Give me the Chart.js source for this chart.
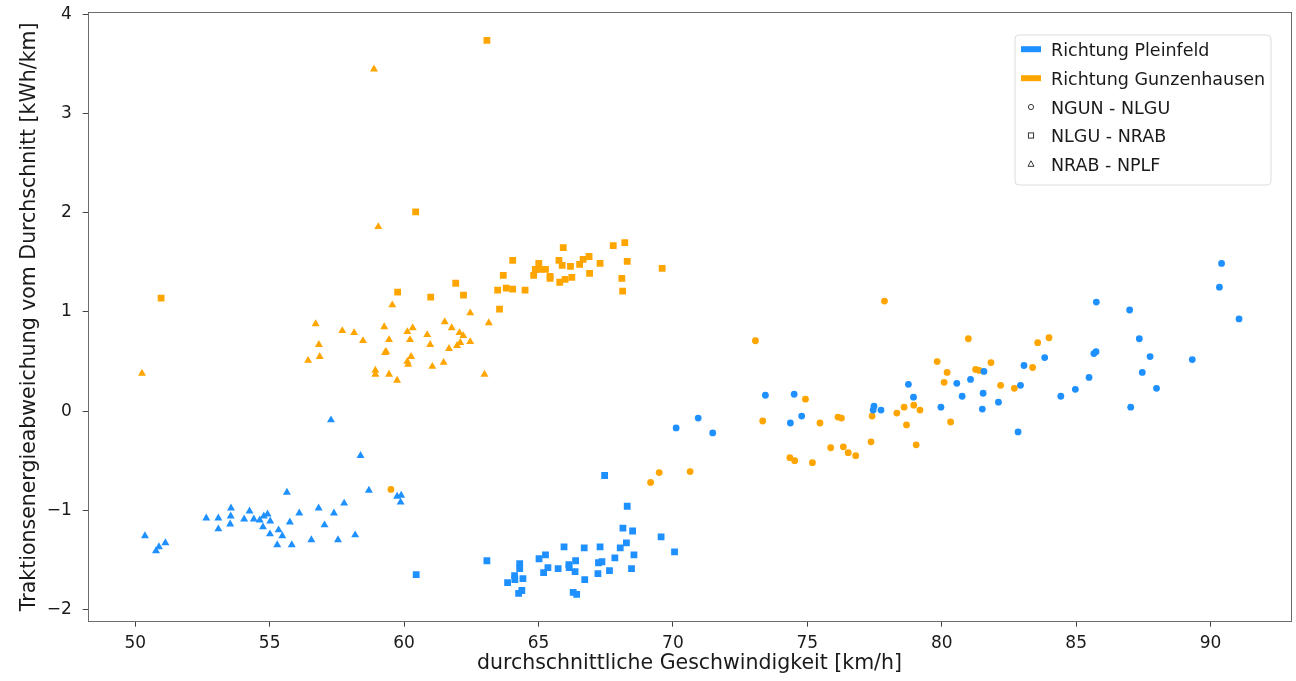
<!DOCTYPE html>
<html>
<head>
<meta charset="utf-8">
<script src="https://cdn.jsdelivr.net/npm/chart.js@4/dist/chart.umd.min.js"></script>
<style>
  html, body { margin: 0; padding: 0; background: #ffffff; }
  #wrap { width: 1296px; height: 681px; }
</style>
</head>
<body>
<div id="wrap"><canvas id="c" width="1296" height="681"></canvas></div>
<script>
// ---- Data (x: km/h, y: kWh/km deviation) ----
const xTicks = [50, 55, 60, 65, 70, 75, 80, 85, 90];
const yTicks = [-2, -1, 0, 1, 2, 3, 4];
const xTitle = 'durchschnittliche Geschwindigkeit [km/h]';
const yTitle = 'Traktionsenergieabweichung vom Durchschnitt [kWh/km]';
const directionLabels = ['Richtung Pleinfeld', 'Richtung Gunzenhausen'];
const sectionLabels = ['NGUN - NLGU', 'NLGU - NRAB', 'NRAB - NPLF'];

const pleinfeldNgunNlgu = [[70.12,-0.17],[70.94,-0.07],[71.48,-0.22],[73.44,0.16],[74.51,0.17],[74.37,-0.12],[74.79,-0.05],[77.48,0.05],[77.45,0.01],[77.74,0.01],[78.76,0.27],[78.95,0.14],[79.97,0.04],[80.56,0.28],[81.07,0.32],[80.76,0.15],[81.57,0.40],[81.54,0.18],[81.51,0.02],[82.11,0.09],[83.06,0.46],[82.93,0.26],[82.84,-0.21],[83.83,0.54],[84.43,0.15],[84.97,0.22],[85.48,0.34],[85.66,0.58],[85.74,0.60],[85.75,1.10],[86.99,1.02],[87.35,0.73],[87.75,0.55],[87.46,0.39],[87.99,0.23],[87.03,0.04],[89.32,0.52],[90.41,1.49],[90.33,1.25],[91.06,0.93]];
const gunzNgunNlgu = [[59.51,-0.79],[69.17,-0.72],[69.49,-0.62],[70.64,-0.61],[73.07,0.71],[73.34,-0.10],[74.35,-0.47],[74.53,-0.50],[74.93,0.12],[75.19,-0.52],[75.47,-0.12],[75.87,-0.37],[76.14,-0.06],[76.27,-0.07],[76.34,-0.36],[76.52,-0.42],[76.80,-0.45],[77.37,-0.31],[77.41,-0.05],[77.87,1.11],[78.33,-0.02],[78.60,0.04],[78.69,-0.14],[78.96,0.06],[79.05,-0.34],[79.19,0.01],[79.83,0.50],[80.09,0.29],[80.20,0.39],[80.33,-0.11],[80.99,0.73],[81.26,0.42],[81.39,0.41],[81.83,0.49],[82.19,0.26],[82.70,0.23],[83.38,0.44],[83.57,0.69],[83.99,0.74]];
const pleinfeldNlguNrab = [[60.45,-1.65],[63.08,-1.51],[63.85,-1.73],[64.11,-1.66],[64.12,-1.70],[64.30,-1.54],[64.30,-1.59],[64.42,-1.69],[64.26,-1.84],[64.38,-1.81],[65.02,-1.49],[65.26,-1.45],[65.35,-1.58],[65.19,-1.63],[65.73,-1.59],[65.95,-1.37],[66.13,-1.55],[66.14,-1.58],[66.38,-1.51],[66.36,-1.62],[66.29,-1.83],[66.42,-1.85],[66.70,-1.38],[66.72,-1.70],[67.29,-1.37],[67.23,-1.53],[67.36,-1.52],[67.21,-1.64],[67.64,-1.61],[67.84,-1.48],[68.04,-1.38],[68.27,-1.33],[68.14,-1.18],[68.50,-1.21],[68.30,-0.96],[68.55,-1.45],[68.46,-1.59],[67.46,-0.65],[69.56,-1.27],[70.06,-1.42]];
const gunzNlguNrab = [[50.96,1.14],[59.76,1.20],[60.43,2.01],[60.99,1.15],[61.92,1.29],[62.21,1.17],[63.08,3.74],[63.48,1.22],[63.55,1.03],[63.69,1.37],[63.80,1.24],[64.04,1.52],[64.04,1.23],[64.50,1.22],[64.82,1.37],[64.88,1.43],[65.01,1.49],[65.05,1.43],[65.26,1.43],[65.43,1.36],[65.43,1.34],[65.76,1.52],[65.79,1.30],[65.88,1.47],[65.92,1.65],[65.99,1.33],[66.19,1.46],[66.24,1.35],[66.53,1.48],[66.66,1.53],[66.88,1.56],[66.90,1.39],[67.29,1.49],[67.78,1.67],[68.10,1.34],[68.13,1.21],[68.21,1.70],[68.30,1.51],[69.60,1.44]];
const pleinfeldNrabNplf = [[50.36,-1.26],[50.77,-1.41],[50.88,-1.37],[51.12,-1.33],[52.64,-1.08],[53.09,-1.08],[53.09,-1.19],[53.56,-0.98],[53.55,-1.06],[53.53,-1.14],[54.05,-1.09],[54.25,-1.01],[54.41,-1.09],[54.63,-1.10],[54.78,-1.06],[54.92,-1.04],[55.02,-1.11],[54.75,-1.17],[55.01,-1.24],[55.33,-1.20],[55.47,-1.26],[55.28,-1.35],[55.82,-1.35],[55.64,-0.82],[55.75,-1.12],[56.10,-1.03],[56.55,-1.30],[56.82,-0.98],[57.04,-1.15],[57.39,-1.03],[57.54,-1.30],[57.28,-0.09],[57.77,-0.93],[58.18,-1.25],[58.38,-0.45],[58.69,-0.80],[59.74,-0.86],[59.89,-0.85],[59.87,-0.92]];
const gunzNrabNplf = [[50.25,0.38],[56.43,0.51],[56.71,0.88],[56.83,0.67],[56.86,0.55],[57.70,0.81],[58.14,0.79],[58.47,0.71],[58.88,3.45],[58.93,0.41],[58.93,0.37],[59.04,1.86],[59.26,0.85],[59.29,0.59],[59.33,0.60],[59.44,0.72],[59.44,0.37],[59.56,1.07],[59.74,0.31],[60.12,0.80],[60.12,0.50],[60.15,0.47],[60.22,0.72],[60.26,0.55],[60.32,0.84],[60.86,0.77],[60.97,0.67],[61.05,0.45],[61.47,0.49],[61.51,0.90],[61.67,0.63],[61.77,0.84],[61.97,0.66],[62.06,0.79],[62.09,0.69],[62.20,0.76],[62.46,0.70],[62.46,0.99],[62.99,0.37],[63.15,0.89]];

// ---- Styling ----
const BLUE = '#1E90FF';
const ORANGE = '#FFA500';
const FONT = "'DejaVu Sans', Verdana, sans-serif";

function toPts(arr) { return arr.map(p => ({ x: p[0], y: p[1] })); }
function ds(label, arr, color, style, radius) {
  return {
    label: label,
    data: toPts(arr),
    backgroundColor: color,
    borderColor: color,
    borderWidth: 0,
    pointStyle: style,
    pointRadius: radius,
    pointHoverRadius: radius
  };
}

const legendPlugin = {
  id: 'customLegend',
  afterDraw(chart) {
    const ctx = chart.ctx;
    ctx.save();
    // frame around axes
    const a = chart.chartArea;
    ctx.strokeStyle = '#6b6b6b';
    ctx.lineWidth = 1;
    ctx.strokeRect(Math.round(a.left) + 0.5, Math.round(a.top) + 0.5, Math.round(a.right - a.left) - 1, Math.round(a.bottom - a.top) - 1);

    // legend box
    const bx = 1015, by = 35, bw = 256, bh = 150, r = 4;
    ctx.beginPath();
    ctx.moveTo(bx + r, by);
    ctx.lineTo(bx + bw - r, by);
    ctx.quadraticCurveTo(bx + bw, by, bx + bw, by + r);
    ctx.lineTo(bx + bw, by + bh - r);
    ctx.quadraticCurveTo(bx + bw, by + bh, bx + bw - r, by + bh);
    ctx.lineTo(bx + r, by + bh);
    ctx.quadraticCurveTo(bx, by + bh, bx, by + bh - r);
    ctx.lineTo(bx, by + r);
    ctx.quadraticCurveTo(bx, by, bx + r, by);
    ctx.closePath();
    ctx.fillStyle = 'rgba(255,255,255,0.85)';
    ctx.fill();
    ctx.strokeStyle = '#dcdcdc';
    ctx.stroke();

    const rows = [56, 85, 113.5, 142, 170.5];
    const textX = 1051;
    ctx.font = '17.5px ' + FONT;
    ctx.fillStyle = '#1a1a1a';
    ctx.textBaseline = 'alphabetic';
    ctx.textAlign = 'left';
    const labels = directionLabels.concat(sectionLabels);
    labels.forEach((t, i) => ctx.fillText(t, textX, rows[i]));

    // direction patches
    ctx.fillStyle = BLUE;
    ctx.fillRect(1021, rows[0] - 9.8, 20, 6);
    ctx.fillStyle = ORANGE;
    ctx.fillRect(1021, rows[1] - 9.8, 20, 6);

    // section markers (hollow, black)
    ctx.strokeStyle = '#222';
    ctx.lineWidth = 0.9;
    const mx = 1031;
    let cy = rows[2] - 6.5;
    ctx.beginPath(); ctx.arc(mx, cy, 2.6, 0, Math.PI * 2); ctx.stroke();
    cy = rows[3] - 6.5;
    ctx.strokeRect(mx - 2.6, cy - 2.6, 5.2, 5.2);
    cy = rows[4] - 6.5;
    ctx.beginPath();
    ctx.moveTo(mx, cy - 3.2);
    ctx.lineTo(mx + 3, cy + 2.3);
    ctx.lineTo(mx - 3, cy + 2.3);
    ctx.closePath();
    ctx.stroke();
    ctx.restore();
  }
};

const tickFont = { family: FONT, size: 17 };
const titleFont = { family: FONT, size: 20.5 };

new Chart(document.getElementById('c'), {
  type: 'scatter',
  data: {
    datasets: [
      ds(directionLabels[0] + ' ' + sectionLabels[0], pleinfeldNgunNlgu, BLUE, 'circle', 3.4),
      ds(directionLabels[1] + ' ' + sectionLabels[0], gunzNgunNlgu, ORANGE, 'circle', 3.4),
      ds(directionLabels[0] + ' ' + sectionLabels[1], pleinfeldNlguNrab, BLUE, 'rect', 4.8),
      ds(directionLabels[1] + ' ' + sectionLabels[1], gunzNlguNrab, ORANGE, 'rect', 4.8),
      ds(directionLabels[0] + ' ' + sectionLabels[2], pleinfeldNrabNplf, BLUE, 'triangle', 4.6),
      ds(directionLabels[1] + ' ' + sectionLabels[2], gunzNrabNplf, ORANGE, 'triangle', 4.6)
    ]
  },
  options: {
    responsive: false,
    animation: false,
    devicePixelRatio: 1,
    layout: { padding: { top: 12, right: 4.3, bottom: 0, left: 0 } },
    plugins: {
      legend: { display: false },
      tooltip: { enabled: false }
    },
    scales: {
      x: {
        type: 'linear',
        min: 48.23,
        max: 93.0,
        afterBuildTicks: s => { s.ticks = xTicks.map(v => ({ value: v })); },
        afterFit: s => { s.height = 59.3; s.paddingLeft = 0; s.paddingRight = 0; s.paddingTop = 0; s.paddingBottom = 0; },
        border: { display: false },
        grid: { display: true, drawOnChartArea: false, drawTicks: true, tickLength: 5, color: '#444', tickColor: '#444' },
        ticks: { font: tickFont, color: '#1a1a1a', padding: 7, maxRotation: 0, autoSkip: false,
                 callback: v => String(v).replace('-', '\u2212') },
        title: { display: true, text: xTitle, font: titleFont, color: '#1a1a1a', padding: { top: 0, bottom: 5 } }
      },
      y: {
        type: 'linear',
        min: -2.125,
        max: 4.027,
        afterBuildTicks: s => { s.ticks = yTicks.map(v => ({ value: v })); },
        afterFit: s => { s.width = 87.7; s.paddingLeft = 0; s.paddingRight = 0; s.paddingTop = 0; s.paddingBottom = 0; },
        border: { display: false },
        grid: { display: true, drawOnChartArea: false, drawTicks: true, tickLength: 5, color: '#444', tickColor: '#444' },
        ticks: { font: tickFont, color: '#1a1a1a', padding: 11, autoSkip: false,
                 callback: v => String(v).replace('-', '\u2212') },
        title: { display: true, text: yTitle, font: titleFont, color: '#1a1a1a', padding: { top: 17.7, bottom: 0 } }
      }
    }
  },
  plugins: [legendPlugin]
});
</script>
</body>
</html>
